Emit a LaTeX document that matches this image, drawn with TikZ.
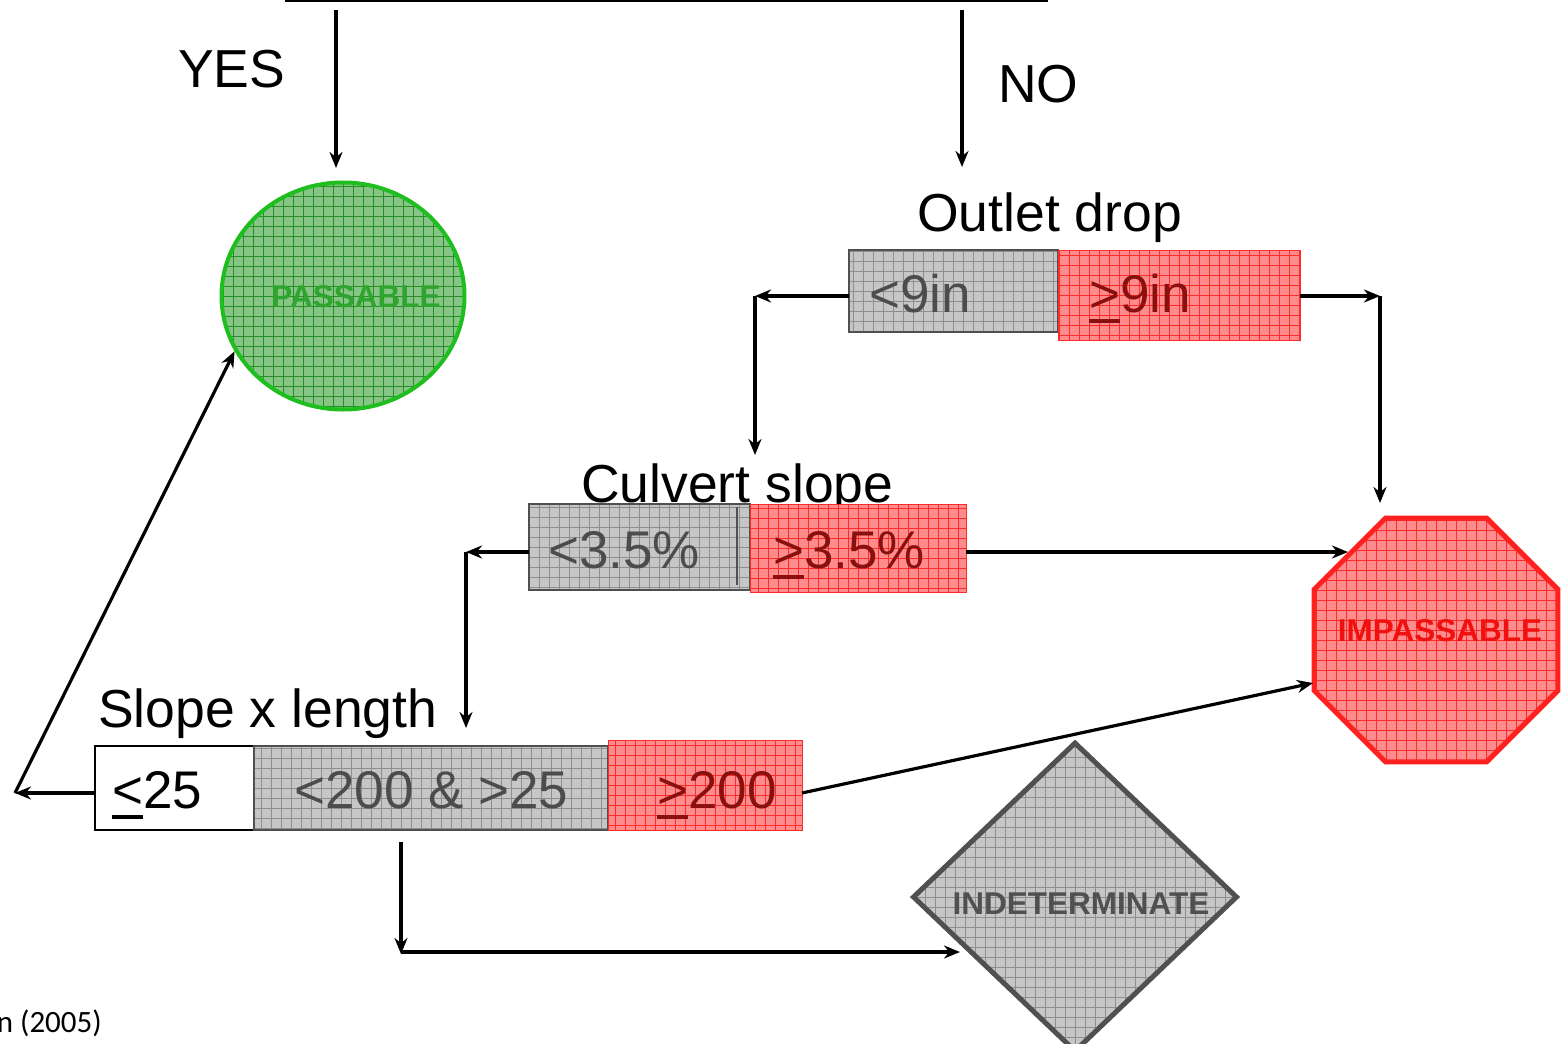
\documentclass[tikz,border=0pt]{standalone}
\usepackage{fontspec}
\setmainfont{Liberation Sans}
\newfontfamily\notefont{Carlito}
\usetikzlibrary{arrows.meta,shapes.geometric}

\definecolor{cellgray}{HTML}{C6C6C6}
\definecolor{gridgray}{HTML}{8E8E8E}
\definecolor{cellred}{HTML}{FF8C8C}
\definecolor{gridred}{HTML}{FF2A2A}
\definecolor{passfill}{HTML}{86C586}
\definecolor{passgrid}{HTML}{258F25}
\definecolor{passedge}{HTML}{1DBE1D}
\definecolor{passtext}{HTML}{2FA52F}
\definecolor{stopedge}{HTML}{FF2020}
\definecolor{stoptext}{HTML}{F01010}
\definecolor{graytext}{HTML}{4C4C4C}
\definecolor{redtext}{HTML}{8A0F0F}
\definecolor{darkedge}{HTML}{505050}

% font size given directly in points
\newcommand\px[1]{\fontsize{#1}{#1}\selectfont}
% underlined comparison signs (>= and <=)
\newcommand\ugt{\makebox[0pt][l]{\rule[-0.21em]{0.584em}{0.08em}}>}
\newcommand\ult{\makebox[0pt][l]{\rule[-0.21em]{0.584em}{0.08em}}<}

\begin{document}
\begin{tikzpicture}[x=1pt,y=-1pt,
  gridded/.style={path picture={\draw[#1,line width=0.7pt]
     (path picture bounding box.south west) grid[step=10pt]
     (path picture bounding box.north east);}},
  cell/.style={rectangle, anchor=north west, inner sep=0pt, outer sep=0pt},
  graycell/.style={cell, fill=cellgray, gridded=gridgray, draw=darkedge, line width=1.5pt},
  redcell/.style={cell, fill=cellred, gridded=gridred, draw=gridred, line width=1pt},
  whitecell/.style={cell, fill=white, draw=black, line width=1.5pt},
  heading/.style={anchor=base west, inner sep=0pt, font=\px{53.5}},
  celltext/.style={anchor=base west, inner sep=0pt, font=\px{53}},
  verdict/.style={anchor=base, inner sep=0pt, font=\px{31.5}\bfseries},
  arr/.style={line width=3.2pt, -{Stealth[length=16pt,width=13pt]}},
  ]
\useasboundingbox (0,0) rectangle (1564,1044);

% box whose lower edge closes the top of the chart
\node[rectangle, draw, line width=3pt, minimum width=760pt, minimum height=120pt,
      anchor=south west, inner sep=0pt] (top) at (285,2) {};

% outcome shapes
\node[ellipse, minimum width=243pt, minimum height=227pt, inner sep=0pt,
      fill=passfill, gridded=passgrid, draw=passedge, line width=4pt] (pass) at (343,296) {};
\node[verdict, text=passtext] (passlbl) at (356,307) {PASSABLE};

\node[regular polygon, regular polygon sides=8, minimum size=264pt, inner sep=0pt,
      fill=cellred, gridded=gridred, draw=stopedge, line width=5pt] (imp) at (1436,640) {};
\node[verdict, text=stoptext] (implbl) at (1440,641) {IMPASSABLE};

\node[diamond, minimum width=325pt, minimum height=310pt, inner sep=0pt,
      fill=cellgray, gridded=gridgray, draw=darkedge, line width=5pt] (ind) at (1075,897) {};
\node[verdict, text=darkedge] (indlbl) at (1081,914) {INDETERMINATE};

% decision labels
\node[heading] (yes) at (178,87) {YES};
\node[heading] (no) at (998,102) {NO};
\node[heading] (odh) at (917,231) {Outlet drop};
\node[heading] (csh) at (581,502) {Culvert slope};
\node[heading] (slh) at (98,727) {Slope x length};

% outlet drop
\node[graycell, minimum width=209pt, minimum height=82pt] (od1) at (849,250) {};
\node[redcell, minimum width=242pt, minimum height=90pt] (od2) at (1058,250) {};
\node[celltext, text=graytext] (od1t) at (869,312) {<9in};
\node[celltext, text=redtext] (od2t) at (1089,312) {\ugt9in};

% culvert slope
\node[graycell, minimum width=221pt, minimum height=86pt] (cs1) at (529,504) {};
\node[redcell, minimum width=216pt, minimum height=88pt] (cs2) at (750,504) {};
\draw[darkedge, line width=1.2pt] (737,507) -- (737,585);
\node[celltext, text=graytext] (cs1t) at (548,568) {<3.5\%};
\node[celltext, text=redtext] (cs2t) at (773,568) {\ugt3.5\%};

% slope x length
\node[whitecell, minimum width=159pt, minimum height=84pt] (sl1) at (95,746) {};
\node[graycell, minimum width=354pt, minimum height=84pt] (sl2) at (254,746) {};
\node[redcell, minimum width=194pt, minimum height=90pt] (sl3) at (608,740) {};
\node[celltext, text=black] (sl1t) at (112,808) {\ult25};
\node[celltext, text=graytext] (sl2t) at (294,808) {<200 \& >25};
\node[celltext, text=redtext] (sl3t) at (657,808) {\ugt200};

% source note
\node[anchor=base east, inner sep=0pt, font=\notefont\px{31}] (cite) at (102,1032) {n (2005)};

% connector bends and free ends
\coordinate (yesx) at (336,168);
\coordinate (nox) at (962,167);
\coordinate (odL) at (755,296);
\coordinate (odLend) at (755,455);
\coordinate (odR) at (1380,296);
\coordinate (odRend) at (1380,503);
\coordinate (csL) at (466,552);
\coordinate (csLend) at (466,728);
\coordinate (impA) at (1348,552);
\coordinate (slL) at (15,793);
\coordinate (impB) at (1313,683);
\coordinate (slD) at (401,842);
\coordinate (slBend) at (401,952);
\coordinate (indIn) at (960,952);

% connectors
\draw[arr] (yesx |- top.south) ++(0,8) -- (yesx);
\draw[arr] (nox |- top.south) ++(0,8) -- (nox);
\draw[arr] (odL -| od1.west) -- (odL);
\draw[arr] (odL) -- (odLend);
\draw[arr] (odR -| od2.east) -- (odR);
\draw[arr] (odR) -- (odRend);
\draw[arr] (impA -| cs2.east) -- (impA);
\draw[arr] (csL -| cs1.west) -- (csL);
\draw[arr] (csL) -- (csLend);
\draw[arr] (slL -| sl1.west) -- (slL);
\draw[arr] (slL) -- (pass.207);
\draw[arr] (slL -| sl3.east) -- (impB);
\draw[arr] (slD) -- ([yshift=-2pt]slBend);
\draw[arr] (slBend) -- (indIn);
\end{tikzpicture}
\end{document}
